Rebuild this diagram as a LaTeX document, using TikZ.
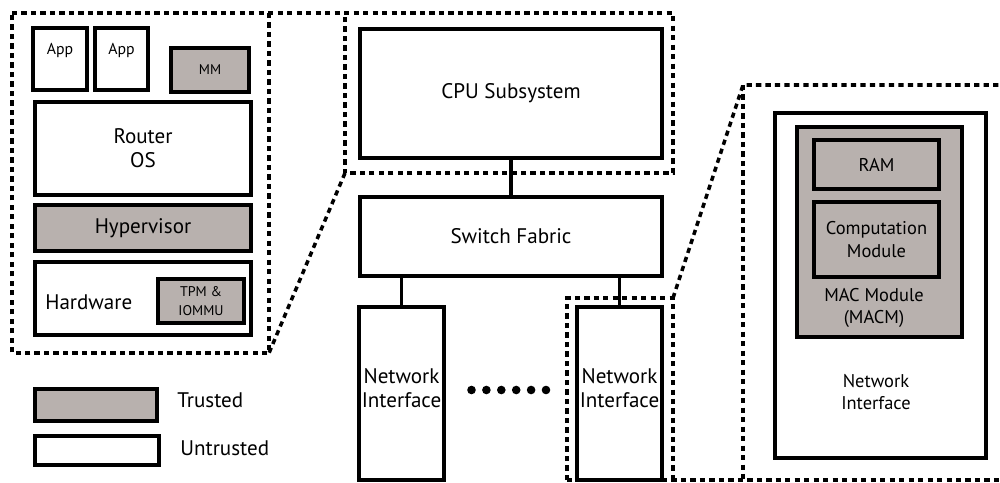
\documentclass[tikz,border=0pt]{standalone}
\usepackage{fontspec}
\setmainfont{PT Sans}
\usetikzlibrary{fit}
\definecolor{trust}{HTML}{B8B1AE}
\begin{document}
\begin{tikzpicture}[x=0.02cm, y=-0.02cm,
  box/.style={draw, line width=2.2pt, inner sep=0pt, fill=white},
  tbox/.style={box, fill=trust},
  zoomline/.style={line width=2pt, dash pattern=on 3pt off 2.4pt},
  link/.style={line width=2.2pt},
  lbl/.style={inner sep=0pt, align=center},
  f8/.style={font=\fontsize{8}{10.5}\selectfont},
  f9/.style={font=\fontsize{9}{11}\selectfont},
  f10/.style={font=\fontsize{10.5}{13}\selectfont},
  f12/.style={font=\fontsize{12}{14}\selectfont}]
\useasboundingbox (0,0) rectangle (1000,483);

% ---- zoom outlines
\draw[zoomline] (12,13) -- (673,13) -- (673,173) -- (345,173) -- (345,13);
\draw[zoomline] (269,13) -- (269,353) -- (12,353) -- (12,13);
\draw[zoomline] (345,173) -- (269,353);
\draw[zoomline] (567,480) -- (567,298) -- (673,298) -- (673,480);
\draw[zoomline] (673,298) -- (743,85) -- (1000,85);
\draw[zoomline] (743,85) -- (743,480);
\draw[zoomline] (567,480) -- (1000,480);

% ---- left panel
\node[box, fit={(33,28)(87,90)}] (app1) {};
\node[box, fit={(95,28)(148,90)}] (app2) {};
\node[tbox, fit={(171,48)(249,92)}] (mm) {};
\node[box, fit={(35,102)(251,195)}] (ros) {};
\node[tbox, fit={(35,205)(251,251)}] (hyp) {};
\node[box, fit={(35,262)(251,335)}] (hw) {};
\node[tbox, fit={(158,279)(244,323)}] (tpm) {};
\node[lbl, f9] (tapp1) at (60,50) {App};
\node[lbl, f9] (tapp2) at (121.5,50) {App};
\node[lbl, f8] (tmm) at (mm) {MM};
\node[lbl, f12] (tros) at (143,148) {Router\\OS};
\node[lbl, f12] (thyp) at (hyp) {Hypervisor};
\node[lbl, f12, anchor=west] (thw) at (45,302) {Hardware};
\node[lbl, f8] (ttpm) at (tpm) {TPM \&\\IOMMU};

% ---- middle
\node[box, fit={(360,29)(662,158)}] (cpu) {};
\node[box, fit={(360,197)(662,276)}] (sw) {};
\node[box, fit={(359,307)(444,480)}] (ni1) {};
\node[box, fit={(577,307)(662,480)}] (ni2) {};
\node[lbl, f12] (tcpu) at (511,93) {CPU Subsystem};
\node[lbl, f12] (tsw) at (sw) {Switch Fabric};
\node[lbl, f12] (tni1) at (401.5,388) {Network\\Interface};
\node[lbl, f12] (tni2) at (619.5,388) {Network\\Interface};
\draw[link] (cpu.south) -- (sw.north);
\draw[link] (sw.south -| ni1.north) -- (ni1.north);
\draw[link] (sw.south -| ni2.north) -- (ni2.north);
\foreach \i in {0,...,5} \fill (471.5+\i*14.9,390) circle (4.3);

% ---- right panel
\node[box, fit={(775,113)(986,458)}] (nib) {};
\node[tbox, fit={(797,127)(962,337)}] (macm) {};
\node[tbox, fit={(814,140)(939,189)}] (ram) {};
\node[tbox, fit={(814,202)(939,277)}] (comp) {};
\node[lbl, f10] (tram) at (ram) {RAM};
\node[lbl, f10] (tcomp) at (comp) {Computation\\Module};
\node[lbl, f10] (tmacm) at (874,308) {MAC Module\\(MACM)};
\node[lbl, f10] (tnib) at (876,392) {Network\\Interface};

% ---- legend
\node[tbox, fit={(35,389)(157,421)}] (lt) {};
\node[box, fit={(35,436)(159,465)}] (lu) {};
\node[lbl, f12, anchor=west] (tlt) at (177,400) {Trusted};
\node[lbl, f12, anchor=west] (tlu) at (180,448) {Untrusted};
\end{tikzpicture}
\end{document}
